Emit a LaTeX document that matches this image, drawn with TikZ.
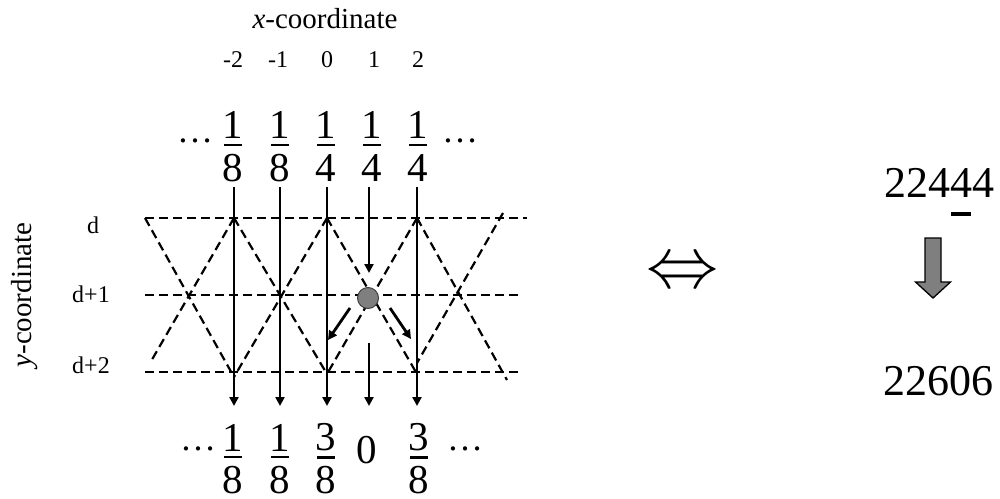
\documentclass[tikz,border=0pt]{standalone}
\usepackage{graphicx}
\usepackage{fontspec}
\setmainfont{Liberation Serif}
\usetikzlibrary{arrows.meta,positioning}
\definecolor{dotgray}{HTML}{7F7F7F}
\definecolor{dotrim}{HTML}{404040}
\newcommand{\fr}[2]{\vbox{\hbox to 18pt{\hss#1\hss}\kern5pt\hrule height 2.4pt\kern8pt\hbox to 18pt{\hss#2\hss}}}
\newcommand{\uldigit}[1]{\ooalign{#1\cr\hfil\vrule height -15pt depth 18.5pt width 20pt\hfil\cr}}
\tikzset{
  lbl/.style={inner sep=0pt, font=\fontsize{24}{24}\selectfont},
  axlab/.style={inner sep=0pt, font=\fontsize{29}{29}\selectfont},
  frc/.style={inner sep=0pt, font=\fontsize{41}{41}\selectfont},
  dts/.style={inner sep=0pt, font=\fontsize{36}{36}\selectfont, anchor=base},
  num/.style={inner sep=0pt, font=\fontsize{44}{44}\selectfont, anchor=base},
  lat/.style={dash pattern=on 9pt off 5pt, line width=2.2pt},
  ar/.style={-{Triangle[length=9pt,width=9pt]}, line width=2.8pt},
  blk/.style={fill=dotgray, draw=black, line width=1.3pt},
}
\begin{document}
\begin{tikzpicture}[x=1pt,y=-1pt]
  \useasboundingbox (0,0) rectangle (1000,498);
  % axis labels
  \node[axlab, anchor=base] (xlab) at (325,28) {\textit{x}-coordinate};
  \node[axlab, rotate=90] (ylab) at (25,295) {\textit{y}-coordinate};
  \foreach \x/\t [count=\i] in {233/-2,278/-1,327/0,374/1,418/2}
    \node[lbl, anchor=base] (col\i) at (\x,67) {\t};
  \node[lbl, anchor=base] (rowd) at (93,233) {d};
  \node[lbl, anchor=base] (rowe) at (91,302) {d+1};
  \node[lbl, anchor=base] (rowf) at (91,373) {d+2};

  % top fractions
  \foreach \x/\d [count=\i] in {233/8,280/8,326/4,372/4,418/4}
    \node[frc] (tf\i) at (\x,146.5) {\fr{1}{\d}};
  \node[dts] (tdl) at (195,142) {\dots};
  \node[dts] (tdr) at (460,142) {\dots};

  % bottom fractions
  \node[frc] (bf1) at (233,459) {\fr{1}{8}};
  \node[frc] (bf2) at (280,459) {\fr{1}{8}};
  \node[frc] (bf3) at (326,459) {\fr{3}{8}};
  \node[frc] (bf4) at (367,450) {0};
  \node[frc] (bf5) at (419,459) {\fr{3}{8}};
  \node[dts] (bdl) at (198,450) {\dots};
  \node[dts] (bdr) at (465,450) {\dots};

  % lattice
  \draw[lat] (145,218) -- (527,218);
  \draw[lat] (145,295) -- (522,295);
  \draw[lat] (145,372) -- (520,372);
  \foreach \a/\b/\c/\d in {145/218/234/377, 234/218/327/374, 327/218/417/374, 417/218/507/380,
                           234/218/150/363, 327/218/234/377, 417/218/327/374, 503/213/417/363}
    \draw[lat] (\a,\b) -- (\c,\d);

  % columns
  \foreach \x [count=\i] in {234,280,327,369,417} {
    \coordinate (vt\i) at (\x,187);
    \coordinate (vb\i) at (\x,406);
  }
  \foreach \i in {1,2,3,5}
    \draw[ar] (vt\i) -- (vb\i);
  \coordinate (hit) at (369,273);
  \coordinate (gap) at (369,343);
  \draw[ar] (vt4) -- (hit);
  \draw[ar] (gap) -- (vb4);

  % particle
  \node[circle, fill=dotgray, draw=dotrim, line width=1pt, minimum size=21pt, inner sep=0pt] (pt) at (368,298) {};
  \coordinate (sl) at (350,308);
  \coordinate (el) at (328,340);
  \coordinate (sr) at (390,308);
  \coordinate (er) at (411,339);
  \draw[ar] (sl) -- (el);
  \draw[ar] (sr) -- (er);

  % right side
  \node[inner sep=0pt, font=\fontsize{24.88}{25}\selectfont] (equiv) at (683,274) {\scalebox{2.9}{$\Leftrightarrow$}};
  \node[num] (src) at (939,197) {224\uldigit{4}4};
  \node[num] (dst) at (938,395) {22606};
  \filldraw[blk] (925,238) -- (941,238) -- (941,282) -- (950.5,282) -- (933,298) -- (915.5,282) -- (925,282) -- cycle;
\end{tikzpicture}
\end{document}
